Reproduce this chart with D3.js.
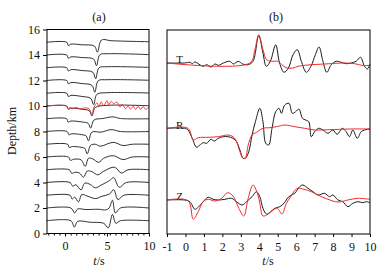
<!DOCTYPE html>
<html>
<head>
<meta charset="utf-8">
<script src="https://cdn.jsdelivr.net/npm/d3@7"></script>
<style>
  html, body { margin: 0; padding: 0; background: #fff; }
  svg text { font-family: "Liberation Serif", "Times New Roman", serif; fill: #111; }
</style>
</head>
<body>
<div id="chart"></div>
<script>
// (a) synthetic traces by depth, [t (s), amplitude (km units)]
const depths = [15, 14, 13, 12, 11, 10, 9, 8, 7, 6, 5, 4, 3, 2, 1];
const a15 = [[-2.2,0],[0.2,0],[0.4,-0.26],[0.7,-0.15],[2.0,-0.2],[3.5,-0.3],[3.85,-0.78],[4.35,0.18],[5.5,0.12],[10,0.04]];
const a14 = [[-2.2,0],[0.2,0],[0.4,-0.26],[0.7,-0.15],[2.0,-0.2],[3.4,-0.32],[3.75,-0.84],[4.15,0.02],[5.2,0.1],[10,0.03]];
const a13 = [[-2.2,0],[0.2,0],[0.4,-0.26],[0.7,-0.15],[2.0,-0.22],[3.3,-0.35],[3.65,-0.86],[4.05,0.0],[5.0,0.08],[10,0.03]];
const a12 = [[-2.2,0],[0.2,0],[0.4,-0.26],[0.7,-0.16],[2.0,-0.24],[3.2,-0.38],[3.55,-0.92],[3.95,-0.02],[5.0,0.06],[10,0.02]];
const a11 = [[-2.2,0],[0.2,0],[0.4,-0.26],[0.7,-0.17],[2.0,-0.25],[3.05,-0.4],[3.4,-0.89],[3.8,-0.08],[5.0,0.04],[10,0.02]];
const a10 = [[-2.2,0],[0.2,0],[0.4,-0.26],[0.7,-0.17],[2.0,-0.25],[2.9,-0.38],[3.2,-0.78],[3.6,-0.12],[5.0,0.05],[10,0.02]];
const a9 = [[-2.2,0],[0.2,0],[0.35,-0.26],[0.7,-0.18],[2.0,-0.25],[2.75,-0.36],[3.05,-0.73],[3.45,-0.1],[4.5,0.02],[5.7,0.15],[6.6,0.02],[10,0]];
const a8 = [[-2.2,0],[0.25,0],[0.45,-0.25],[0.8,-0.18],[2.0,-0.25],[2.5,-0.34],[2.8,-0.73],[3.2,-0.05],[4.3,-0.05],[5.5,0.15],[6.6,0.0],[10,0]];
const a7 = [[-2.2,0],[0.3,0],[0.5,-0.25],[0.9,-0.18],[2.0,-0.25],[2.35,-0.32],[2.65,-0.76],[3.05,-0.08],[3.6,0.0],[4.2,-0.15],[5.75,0.15],[6.9,-0.1],[8,0],[10,0]];
const a6 = [[-2.2,0],[0.4,0],[0.65,-0.27],[1.0,-0.18],[1.9,-0.22],[2.4,-0.73],[2.8,-0.1],[3.3,-0.15],[4.0,-0.42],[4.6,-0.1],[5.75,0.1],[6.9,-0.2],[8,0],[10,0]];
const a5 = [[-2.2,0],[0.5,0],[0.8,-0.28],[1.2,-0.2],[1.7,-0.25],[2.2,-0.58],[2.65,-0.1],[3.2,-0.15],[3.9,-0.4],[4.6,-0.12],[5.9,0.2],[6.7,-0.26],[7.5,0],[10,0]];
const a4 = [[-2.2,0],[0.6,0],[0.9,-0.28],[1.3,-0.18],[1.9,-0.58],[2.35,-0.05],[3.0,-0.15],[3.6,-0.42],[4.3,-0.2],[5.3,0.15],[5.8,0.38],[6.45,-0.37],[7.3,0],[10,0]];
const a3 = [[-2.2,0],[0.6,0],[0.85,-0.3],[1.15,-0.15],[1.6,-0.52],[2.0,0.05],[2.6,-0.05],[3.6,-0.26],[4.4,-0.08],[5.3,0.1],[5.8,0.44],[6.3,-0.34],[7.0,0],[10,0]];
const a2 = [[-2.2,0],[0.7,0],[1.15,-0.39],[1.5,-0.08],[2.5,-0.12],[4.0,-0.1],[4.85,-0.15],[5.25,0.0],[5.65,0.6],[6.0,-0.39],[6.6,0],[10,0]];
const a1 = [[-2.2,0],[0.7,0],[1.1,-0.5],[1.5,-0.05],[3.0,-0.12],[4.6,-0.2],[5.15,-0.55],[5.65,0.5],[6.05,-0.2],[6.6,0],[10,0]];
const tracesA = [a15, a14, a13, a12, a11, a10, a9, a8, a7, a6, a5, a4, a3, a2, a1];
// observed record overlaid at 10 km
const a10red = [[-2.2,0],[0.15,0],[0.35,-0.22],[0.6,-0.12],[0.9,-0.22],[1.3,-0.12],[1.8,-0.22],[2.3,-0.15],[2.85,-0.22],[3.2,-0.63],[3.45,-0.1],[3.8,0.24],[4.05,-0.05],[4.3,0.32],[4.6,0.04],[5.0,0.42],[5.2,0.1],[5.5,0.36],[5.8,0.18],[6.15,0.32],[6.55,-0.08],[6.8,0.15],[7.2,-0.22],[7.5,0.0],[7.8,-0.24],[8.1,-0.02],[8.4,-0.26],[8.7,-0.04],[9.0,-0.26],[9.3,-0.04],[9.6,-0.26],[10,-0.08]];

// (b) components, [t (s), amplitude (arb.)]
const components = ["T", "R", "Z"];
const offsetsB = [17.1, 10.5, 3.4];
const tBlack = [[-1,0],[-0.05,0],[0.24,0.07],[0.37,-0.07],[0.5,0.1],[0.96,-0.33],[1.15,-0.17],[1.38,-0.4],[1.6,-0.1],[1.8,-0.23],[2.05,0],[2.4,0.17],[2.6,-0.1],[2.86,0.17],[3.1,-0.1],[3.4,-0.17],[3.66,0.17],[3.97,2.73],[4.2,1.0],[4.38,-0.33],[4.6,0.17],[4.89,1.83],[5.1,0],[5.34,-0.93],[5.58,-0.5],[5.83,0.83],[6.06,1.33],[6.28,0.17],[6.55,-0.93],[6.8,-0.33],[7.04,0.83],[7.24,1.6],[7.45,0.17],[7.66,-0.93],[7.9,-0.17],[8.17,0.17],[8.44,0.07],[8.7,-0.07],[8.98,0],[9.25,0.17],[9.49,0.57],[9.7,-0.33],[9.85,-0.6],[10,-0.17]];
const tRed = [[-1,0],[3.49,0],[3.76,1.33],[3.97,2.83],[4.2,1.33],[4.4,0.33],[4.66,0.17],[5.0,0.17],[5.29,-0.27],[5.5,-0.5],[5.83,-0.5],[6.1,-0.33],[6.64,-0.2],[7.54,-0.1],[8.62,0],[9.16,-0.07],[9.7,-0.27],[10,-0.2]];
const rBlack = [[-1,0.07],[-0.05,0.07],[0.14,-0.1],[0.37,-0.93],[0.6,-1.83],[0.78,-1.6],[0.96,-1.37],[1.15,-1.43],[1.38,-1.03],[1.56,-1.2],[1.78,-0.93],[2.05,-0.77],[2.3,-0.77],[2.58,-0.93],[2.77,-1.27],[2.95,-2.1],[3.12,-2.93],[3.25,-2.93],[3.43,-2.27],[3.61,-0.6],[3.79,0.73],[4.03,2.07],[4.2,0.73],[4.35,-1.43],[4.51,-1.6],[4.69,0.07],[4.89,1.73],[5.07,2.07],[5.2,1.57],[5.38,2.4],[5.61,2.57],[5.79,1.57],[5.97,1.73],[6.15,2.0],[6.34,1.07],[6.51,0.9],[6.68,0.73],[6.82,-0.77],[7.0,-0.27],[7.22,0.07],[7.45,-0.1],[7.72,-0.43],[7.99,-0.1],[8.22,-0.53],[8.5,0.07],[8.71,-0.27],[8.89,-0.77],[9.07,-0.1],[9.31,-0.93],[9.52,-0.27],[9.7,-0.1],[10,0]];
const rRed = [[-1,0.07],[0.14,0.07],[0.42,-1.1],[0.69,-0.87],[1.23,-0.83],[1.78,-0.77],[2.3,-0.6],[2.58,-0.77],[2.77,-1.27],[2.95,-2.27],[3.12,-2.93],[3.25,-2.87],[3.4,-1.6],[3.61,-0.6],[3.85,-0.33],[4.2,0.07],[4.57,0.13],[4.93,0.23],[5.38,0.4],[5.92,0.23],[6.46,0.07],[7.0,-0.1],[7.8,-0.07],[8.9,0],[10,0]];
const zBlack = [[-1,0],[-0.05,0],[0.24,-0.17],[0.51,-0.93],[0.69,-0.73],[0.96,-0.17],[1.23,0.27],[1.5,0.07],[1.78,0],[2.14,0.07],[2.5,0.17],[2.77,-0.17],[3.07,-0.5],[3.31,-0.17],[3.61,0.33],[3.85,0.83],[4.03,0.33],[4.2,-0.83],[4.39,-1.4],[4.62,-1.17],[4.84,-0.83],[5.11,-0.67],[5.34,-0.33],[5.6,0.33],[5.92,0.67],[6.19,1.33],[6.37,1.5],[6.64,1.17],[6.91,0.83],[7.18,0.5],[7.54,0.67],[7.81,0.33],[7.99,0.5],[8.26,0],[8.53,-0.17],[8.8,-0.67],[9.07,-0.33],[9.34,-0.17],[9.61,-0.27],[9.8,-0.17],[10,-0.27]];
const zRed = [[-1,0],[0.14,-0.07],[0.42,-1.93],[0.69,-1.17],[0.96,-0.17],[1.23,0.07],[1.6,-0.1],[1.96,0.17],[2.28,0.73],[2.58,0.4],[2.89,-0.83],[3.16,-1.6],[3.4,0.17],[3.66,1.5],[3.9,0.67],[4.03,-0.33],[4.2,-1.6],[4.48,-1.4],[4.75,-1.0],[4.98,-0.83],[5.23,-1.4],[5.47,-0.33],[5.7,0.33],[6.06,1.17],[6.42,1.07],[6.82,0.83],[7.18,0.5],[7.72,0.07],[8.26,-0.2],[8.8,0],[9.34,0.17],[10,0.07]];
const blackB = [tBlack, rBlack, zBlack];
const redB = [tRed, rRed, zRed];

const depthTicks = [0, 2, 4, 6, 8, 10, 12, 14, 16];
const timeTicksA = [0, 5, 10];
const timeTicksB = [-1, 0, 1, 2, 3, 4, 5, 6, 7, 8, 9, 10];

const W = 383, H = 275;
const BLACK = '#1a1a1a', RED = '#f02a2e';
const plain = (d) => String(d); // keep ascii hyphen for negatives

const svg = d3.select('#chart').append('svg')
  .attr('width', W).attr('height', H);

// panel (a)
const xA = d3.scaleLinear().domain([-2.15, 10]).range([47, 149]);
const yA = d3.scaleLinear().domain([0, 16]).range([233.5, 29.5]);
const gA = svg.append('g');

const lineA = (base) => d3.line()
  .x((d) => xA(d[0])).y((d) => yA(base + d[1]))
  .curve(d3.curveCatmullRom.alpha(0.5));

depths.forEach((dep, i) => {
  gA.append('path').attr('d', lineA(dep)(tracesA[i]))
    .attr('fill', 'none').attr('stroke', BLACK).attr('stroke-width', 0.9);
});
gA.append('path').attr('d', lineA(10)(a10red))
  .attr('fill', 'none').attr('stroke', RED).attr('stroke-width', 0.9);

gA.append('rect').attr('x', 47).attr('y', 29.5).attr('width', 102).attr('height', 204)
  .attr('fill', 'none').attr('stroke', '#000').attr('stroke-width', 1);

const axLeftA = gA.append('g').attr('transform', 'translate(47,0)')
  .call(d3.axisLeft(yA).tickValues(depthTicks).tickSize(4).tickPadding(3).tickFormat(plain));
const axBotA = gA.append('g').attr('transform', 'translate(0,233.5)')
  .call(d3.axisBottom(xA).tickValues(timeTicksA).tickSize(3).tickPadding(5).tickFormat(plain));
gA.append('g').attr('transform', 'translate(0,233.5)')
  .call(d3.axisBottom(xA).tickValues(d3.range(-2, 10.01, 2 / 3)).tickSize(2).tickFormat(''))
  .select('.domain').remove();

gA.append('text').attr('x', 99).attr('y', 21).attr('text-anchor', 'middle')
  .attr('font-size', 12).text('(a)');
gA.append('text').attr('transform', 'translate(16,131) rotate(-90)')
  .attr('text-anchor', 'middle').attr('font-size', 12).text('Depth/km');
const xlabA = gA.append('text').attr('x', 99).attr('y', 265).attr('text-anchor', 'middle').attr('font-size', 12);
xlabA.append('tspan').attr('font-style', 'italic').text('t');
xlabA.append('tspan').text('/s');

// panel (b)
const xB = d3.scaleLinear().domain([-1, 10]).range([167, 370]);
const yB = d3.scaleLinear().domain([0, 20.4]).range([234, 30]);
const gB = svg.append('g');

components.forEach((c, i) => {
  gB.append('text').attr('x', xB(-0.32)).attr('y', yB(offsetsB[i]) - 0.5)
    .attr('text-anchor', 'middle').attr('font-size', 11).text(c);
});

const lineB = (base) => d3.line()
  .x((d) => xB(d[0])).y((d) => yB(base + d[1]))
  .curve(d3.curveCatmullRom.alpha(0.5));

components.forEach((c, i) => {
  gB.append('path').attr('d', lineB(offsetsB[i])(blackB[i]))
    .attr('fill', 'none').attr('stroke', BLACK).attr('stroke-width', 1);
  gB.append('path').attr('d', lineB(offsetsB[i])(redB[i]))
    .attr('fill', 'none').attr('stroke', RED).attr('stroke-width', 1);
});

gB.append('rect').attr('x', 167).attr('y', 30).attr('width', 203).attr('height', 204)
  .attr('fill', 'none').attr('stroke', '#000').attr('stroke-width', 1);

const axBotB = gB.append('g').attr('transform', 'translate(0,234)')
  .call(d3.axisBottom(xB).tickValues(timeTicksB).tickSize(3).tickPadding(5).tickFormat(plain));

gB.append('text').attr('x', 276).attr('y', 21).attr('text-anchor', 'middle')
  .attr('font-size', 12).text('(b)');
const xlabB = gB.append('text').attr('x', 268).attr('y', 265).attr('text-anchor', 'middle').attr('font-size', 12);
xlabB.append('tspan').attr('font-style', 'italic').text('t');
xlabB.append('tspan').text('/s');

[axLeftA, axBotA, axBotB].forEach((ax) => {
  ax.select('.domain').remove();
  ax.selectAll('text').attr('font-size', 12).attr('font-family', '"Liberation Serif", "Times New Roman", serif').attr('fill', '#111');
  ax.selectAll('line').attr('stroke', '#000');
});
svg.selectAll('.tick line').attr('stroke', '#000');
</script>
</body>
</html>
